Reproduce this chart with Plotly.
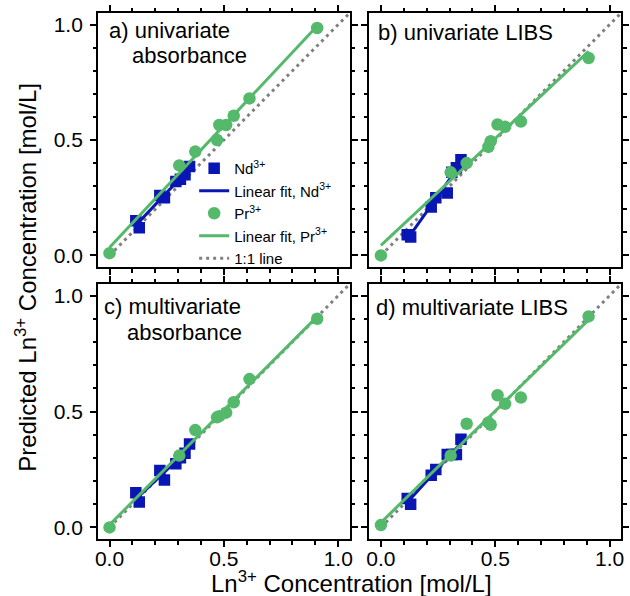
import numpy as np
import plotly.graph_objects as go

# Reference concentrations [mol/L]
ND_CONC = [0.115, 0.13, 0.22, 0.24, 0.29, 0.31, 0.33, 0.35]
PR_CONC = [0.0, 0.305, 0.375, 0.47, 0.48, 0.51, 0.543, 0.612, 0.908]

# Predicted concentrations for each calibration model
ND_UNI_ABS = [0.15, 0.12, 0.26, 0.25, 0.32, 0.33, 0.35, 0.385]
PR_UNI_ABS = [0.01, 0.39, 0.45, 0.50, 0.565, 0.565, 0.605, 0.68, 0.985]

ND_UNI_LIBS = [0.09, 0.08, 0.21, 0.25, 0.27, 0.36, 0.38, 0.415]
PR_UNI_LIBS = [0.0, 0.36, 0.40, 0.47, 0.495, 0.567, 0.557, 0.58, 0.855]

ND_MULTI_ABS = [0.15, 0.11, 0.245, 0.205, 0.275, 0.30, 0.32, 0.36]
PR_MULTI_ABS = [0.0, 0.31, 0.42, 0.475, 0.48, 0.495, 0.54, 0.64, 0.90]

ND_MULTI_LIBS = [0.125, 0.10, 0.225, 0.25, 0.315, 0.315, 0.315, 0.38]
PR_MULTI_LIBS = [0.01, 0.31, 0.447, 0.453, 0.443, 0.57, 0.533, 0.56, 0.91]

PANEL_TITLES = [
    ["a) univariate", "absorbance"],
    ["b) univariate LIBS"],
    ["c) multivariate", "absorbance"],
    ["d) multivariate LIBS"],
]
PANELS = [
    (ND_UNI_ABS, PR_UNI_ABS),
    (ND_UNI_LIBS, PR_UNI_LIBS),
    (ND_MULTI_ABS, PR_MULTI_ABS),
    (ND_MULTI_LIBS, PR_MULTI_LIBS),
]

AXIS_RANGE = [-0.05, 1.05]
ONE_TO_ONE = [0.0, 1.05]

BLUE = "#0a16b4"
GREEN = "#55b96c"
GRAY = "#808080"
FONT = "Liberation Sans, Arial, sans-serif"

W, H = 630, 596


def px_x(v):
    return v / W


def px_y(v):
    return 1 - v / H


col_domains = [[px_x(96), px_x(350)], [px_x(370), px_x(624)]]
row_domains = [[px_y(267), px_y(13)], [px_y(539), px_y(284)]]

fig = go.Figure()


def fit_line(x, y):
    slope, intercept = np.polyfit(x, y, 1)
    xs = np.array([min(x), max(x)])
    return xs, slope * xs + intercept


for i, (nd_pred, pr_pred) in enumerate(PANELS):
    ax = "" if i == 0 else str(i + 1)
    xa, ya = "x" + ax, "y" + ax
    first = i == 0

    fig.add_trace(go.Scatter(
        x=ONE_TO_ONE, y=ONE_TO_ONE, mode="lines", xaxis=xa, yaxis=ya,
        line=dict(color=GRAY, width=3, dash="3px,4px"),
        name="1:1 line", legendrank=5, showlegend=first))
    fig.add_trace(go.Scatter(
        x=ND_CONC, y=nd_pred, mode="markers", xaxis=xa, yaxis=ya,
        marker=dict(symbol="square", size=11.5, color=BLUE),
        name="Nd<sup>3+</sup>", legendrank=1, showlegend=first))
    fx, fy = fit_line(ND_CONC, nd_pred)
    fig.add_trace(go.Scatter(
        x=fx, y=fy, mode="lines", xaxis=xa, yaxis=ya,
        line=dict(color=BLUE, width=3),
        name="Linear fit, Nd<sup>3+</sup>", legendrank=2, showlegend=first))
    fx, fy = fit_line(PR_CONC, pr_pred)
    fig.add_trace(go.Scatter(
        x=fx, y=fy, mode="lines", xaxis=xa, yaxis=ya,
        line=dict(color=GREEN, width=3),
        name="Linear fit, Pr<sup>3+</sup>", legendrank=4, showlegend=first))
    fig.add_trace(go.Scatter(
        x=PR_CONC, y=pr_pred, mode="markers", xaxis=xa, yaxis=ya,
        marker=dict(symbol="circle", size=12.5, color=GREEN),
        name="Pr<sup>3+</sup>", legendrank=3, showlegend=first))

axis_common = dict(
    range=AXIS_RANGE, showgrid=False, zeroline=False,
    showline=True, linecolor="black", linewidth=2, mirror="ticks",
    ticks="outside", ticklen=6, tickwidth=1.5, tickcolor="black",
    tickvals=[0.0, 0.5, 1.0], ticktext=["0.0", "0.5", "1.0"],
    minor=dict(dtick=0.1, tick0=0, ticks="outside", ticklen=3.5,
               tickwidth=1.5, tickcolor="black"),
    tickfont=dict(family=FONT, size=21, color="black"),
)

layout = {}
for i in range(4):
    r, c = divmod(i, 2)
    ax = "" if i == 0 else str(i + 1)
    layout["xaxis" + ax] = dict(
        axis_common, domain=col_domains[c], anchor="y" + ax,
        showticklabels=(r == 1), ticklabelstandoff=-6)
    layout["yaxis" + ax] = dict(
        axis_common, domain=row_domains[r], anchor="x" + ax,
        showticklabels=(c == 0), ticklabelstandoff=3)

# panel labels: (left px, centre px) of each text line
label_pos = [
    [(107, 30.5), (130, 55)],
    [(379, 33)],
    [(102, 306.5), (125, 332)],
    [(377, 307)],
]
annotations = []
for lines, positions in zip(PANEL_TITLES, label_pos):
    for text, (lx, cy) in zip(lines, positions):
        annotations.append(dict(
            text=text, x=px_x(lx), y=px_y(cy), xref="paper", yref="paper",
            xanchor="left", yanchor="middle", showarrow=False,
            font=dict(family=FONT, size=22, color="black"), xshift=-2))

annotations.append(dict(
    text="Ln<sup>3+</sup> Concentration [mol/L]", x=px_x(352), y=px_y(582),
    xref="paper", yref="paper", xanchor="center", yanchor="middle",
    showarrow=False, font=dict(family=FONT, size=24, color="black")))
annotations.append(dict(
    text="Predicted Ln<sup>3+</sup> Concentration [mol/L]", x=px_x(23),
    y=px_y(277), xref="paper", yref="paper", xanchor="center",
    yanchor="middle", textangle=-90, showarrow=False,
    font=dict(family=FONT, size=24, color="black")))

fig.update_layout(
    **layout,
    annotations=annotations,
    width=W, height=H,
    margin=dict(l=0, r=0, t=0, b=0),
    paper_bgcolor="white", plot_bgcolor="white",
    showlegend=True,
    legend=dict(
        x=px_x(193), y=px_y(152), xanchor="left", yanchor="top",
        font=dict(family=FONT, size=15, color="black"),
        bgcolor="rgba(0,0,0,0)", borderwidth=0, tracegroupgap=0,
        itemwidth=30),
)

fig.write_html("out.html")
